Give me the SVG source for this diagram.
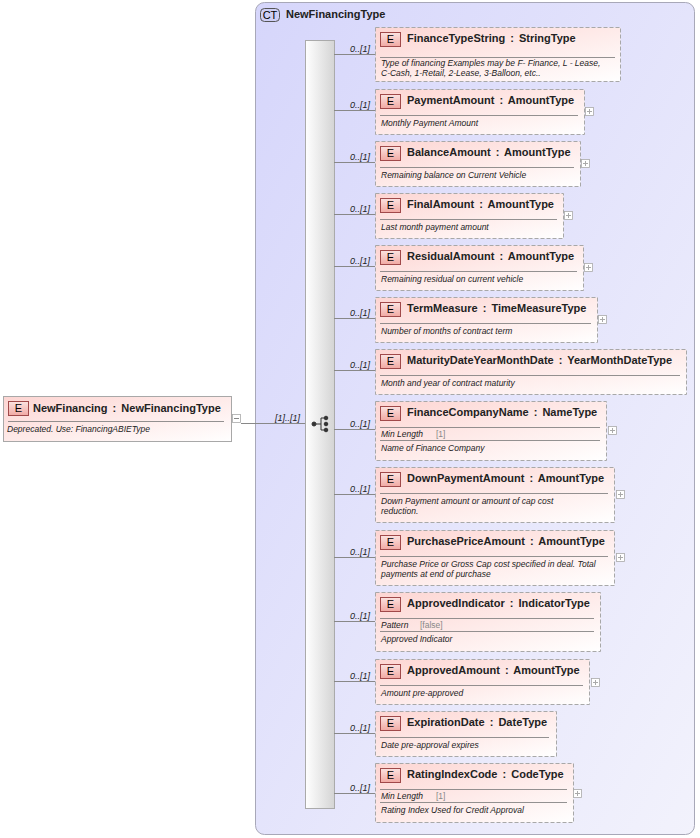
<svg xmlns="http://www.w3.org/2000/svg" width="700" height="838" viewBox="0 0 700 838">
<defs>
<linearGradient id="eg" x1="0" y1="0" x2="1" y2="1"><stop offset="0" stop-color="#fdd5d2"/><stop offset="1" stop-color="#ffffff"/></linearGradient>
<linearGradient id="bg" x1="0" y1="0" x2="0" y2="1"><stop offset="0" stop-color="#fbe3e1"/><stop offset="1" stop-color="#f1a9a3"/></linearGradient>
<linearGradient id="sq" x1="0" y1="0" x2="1" y2="0"><stop offset="0" stop-color="#ffffff"/><stop offset="1" stop-color="#d4d4d4"/></linearGradient>
<linearGradient id="ct" x1="0" y1="0" x2="1" y2="1"><stop offset="0" stop-color="#d6d6fb"/><stop offset="1" stop-color="#f2f2fc"/></linearGradient>
<style>
.box{fill:url(#eg);stroke:#a8a8a8;stroke-dasharray:4,2;stroke-width:1}
.sbox{fill:url(#eg);stroke:#a8a8a8;stroke-width:1}
.badge{fill:url(#bg);stroke:#a0494a;stroke-width:1}
.bt{font-family:"Liberation Sans",Arial,sans-serif;font-size:11px;fill:#000}
.t{font-family:"Liberation Sans",Arial,sans-serif;font-size:11px;font-weight:bold;fill:#222;word-spacing:2px}
.d{font-family:"Liberation Sans",Arial,sans-serif;font-size:8.5px;font-style:italic;fill:#222}
.f{font-family:"Liberation Sans",Arial,sans-serif;font-size:8.5px;fill:#888}
.m{font-family:"Liberation Sans",Arial,sans-serif;font-size:9px;font-style:italic;fill:#222}
.sep{stroke:#777;stroke-width:0.8}
.ln{stroke:#888;stroke-width:1;fill:none}
.pl{fill:#fff;stroke:#aaa;stroke-width:0.8}
</style>
</defs>
<g id="NewFinancingType">
<rect x="255.5" y="2.5" width="439" height="832" rx="9" fill="url(#ct)" stroke="#a8a8b8"/>
<rect x="260.5" y="8.5" width="19" height="13" rx="4" fill="#cfcff5" stroke="#555"/>
<text x="270" y="19" text-anchor="middle" class="bt">CT</text>
<text x="286" y="18" class="t">NewFinancingType</text>
<rect x="305.5" y="40.5" width="29" height="768" fill="url(#sq)" stroke="#aaa"/>
<g fill="#333" stroke="#333"><circle cx="314" cy="424" r="2"/><line x1="316" y1="424" x2="321" y2="424"/><line x1="321" y1="418" x2="321" y2="430"/><line x1="321" y1="418" x2="325" y2="418"/><line x1="321" y1="430" x2="325" y2="430"/><circle cx="326" cy="418" r="1.8"/><circle cx="326" cy="424" r="1.8"/><circle cx="326" cy="430" r="1.8"/></g>
</g>
<g id="connectors">
<line class="ln" x1="241" y1="423.5" x2="305" y2="423.5"/>
<text x="275" y="421" class="m">[1]..[1]</text>
<g class="ln">
<path d="M334 54.5H375M334 110.5H375M334 162.5H375M334 214.5H375M334 266.5H375M334 318.5H375M334 370.5H375M334 429.5H375M334 494.5H375M334 557.5H375M334 621.5H375M334 681.5H375M334 733.5H375M334 793.5H375"/>
</g>
<g class="m">
<text x="350" y="52">0..[1]</text><text x="350" y="108">0..[1]</text><text x="350" y="160">0..[1]</text><text x="350" y="212">0..[1]</text><text x="350" y="264">0..[1]</text><text x="350" y="316">0..[1]</text><text x="350" y="368">0..[1]</text><text x="350" y="427">0..[1]</text><text x="350" y="492">0..[1]</text><text x="350" y="555">0..[1]</text><text x="350" y="619">0..[1]</text><text x="350" y="679">0..[1]</text><text x="350" y="731">0..[1]</text><text x="350" y="791">0..[1]</text>
</g>
</g>
<g id="NewFinancing">
<rect class="sbox" x="3.5" y="396.5" width="228" height="45"/>
<rect class="badge" x="8.5" y="401.5" width="20" height="14"/><text x="18.5" y="412" text-anchor="middle" class="bt">E</text>
<text x="33" y="412" class="t">NewFinancing : NewFinancingType</text>
<line class="sep" x1="8" y1="421.5" x2="224" y2="421.5"/>
<text x="7" y="432" class="d">Deprecated. Use: FinancingABIEType</text>
<rect class="pl" x="232.5" y="414.5" width="8" height="8"/><line x1="234" y1="418.5" x2="239" y2="418.5" stroke="#888"/>
</g>
<g id="FinanceTypeString">
<rect class="box" x="375.5" y="27.5" width="245" height="54"/>
<rect class="badge" x="380.5" y="32.5" width="20" height="14"/><text x="390.5" y="43" text-anchor="middle" class="bt">E</text>
<text x="407" y="42" class="t">FinanceTypeString : StringType</text>
<line class="sep" x1="380" y1="57.5" x2="615" y2="57.5"/>
<text x="381" y="66" class="d">Type of financing Examples may be F- Finance, L - Lease,</text>
<text x="381" y="76" class="d">C-Cash, 1-Retail, 2-Lease, 3-Balloon, etc..</text>
</g>
<g id="PaymentAmount">
<rect class="box" x="375.5" y="89.5" width="209" height="45"/>
<rect class="badge" x="380.5" y="94.5" width="20" height="14"/><text x="390.5" y="105" text-anchor="middle" class="bt">E</text>
<text x="407" y="104" class="t">PaymentAmount : AmountType</text>
<line class="sep" x1="380" y1="115.5" x2="578" y2="115.5"/>
<text x="381" y="126" class="d">Monthly Payment Amount</text>
<rect class="pl" x="585.5" y="107.5" width="8" height="8"/><path d="M587 111.5h5M589.5 109v5" stroke="#aaa"/>
</g>
<g id="BalanceAmount">
<rect class="box" x="375.5" y="141.5" width="205" height="45"/>
<rect class="badge" x="380.5" y="146.5" width="20" height="14"/><text x="390.5" y="157" text-anchor="middle" class="bt">E</text>
<text x="407" y="156" class="t">BalanceAmount : AmountType</text>
<line class="sep" x1="380" y1="167.5" x2="574" y2="167.5"/>
<text x="381" y="178" class="d">Remaining balance on Current Vehicle</text>
<rect class="pl" x="581.5" y="159.5" width="8" height="8"/><path d="M583 163.5h5M585.5 161v5" stroke="#aaa"/>
</g>
<g id="FinalAmount">
<rect class="box" x="375.5" y="193.5" width="188" height="45"/>
<rect class="badge" x="380.5" y="198.5" width="20" height="14"/><text x="390.5" y="209" text-anchor="middle" class="bt">E</text>
<text x="407" y="208" class="t">FinalAmount : AmountType</text>
<line class="sep" x1="380" y1="219.5" x2="557" y2="219.5"/>
<text x="381" y="230" class="d">Last month payment amount</text>
<rect class="pl" x="564.5" y="211.5" width="8" height="8"/><path d="M566 215.5h5M568.5 213v5" stroke="#aaa"/>
</g>
<g id="ResidualAmount">
<rect class="box" x="375.5" y="245.5" width="208" height="45"/>
<rect class="badge" x="380.5" y="250.5" width="20" height="14"/><text x="390.5" y="261" text-anchor="middle" class="bt">E</text>
<text x="407" y="260" class="t">ResidualAmount : AmountType</text>
<line class="sep" x1="380" y1="271.5" x2="577" y2="271.5"/>
<text x="381" y="282" class="d">Remaining residual on current vehicle</text>
<rect class="pl" x="584.5" y="263.5" width="8" height="8"/><path d="M586 267.5h5M588.5 265v5" stroke="#aaa"/>
</g>
<g id="TermMeasure">
<rect class="box" x="375.5" y="297.5" width="222" height="45"/>
<rect class="badge" x="380.5" y="302.5" width="20" height="14"/><text x="390.5" y="313" text-anchor="middle" class="bt">E</text>
<text x="407" y="312" class="t">TermMeasure : TimeMeasureType</text>
<line class="sep" x1="380" y1="323.5" x2="591" y2="323.5"/>
<text x="381" y="334" class="d">Number of months of contract term</text>
<rect class="pl" x="598.5" y="315.5" width="8" height="8"/><path d="M600 319.5h5M602.5 317v5" stroke="#aaa"/>
</g>
<g id="MaturityDateYearMonthDate">
<rect class="box" x="375.5" y="349.5" width="311" height="45"/>
<rect class="badge" x="380.5" y="354.5" width="20" height="14"/><text x="390.5" y="365" text-anchor="middle" class="bt">E</text>
<text x="407" y="364" class="t">MaturityDateYearMonthDate : YearMonthDateType</text>
<line class="sep" x1="380" y1="375.5" x2="680" y2="375.5"/>
<text x="381" y="386" class="d">Month and year of contract maturity</text>
</g>
<g id="FinanceCompanyName">
<rect class="box" x="375.5" y="401.5" width="231" height="59"/>
<rect class="badge" x="380.5" y="406.5" width="20" height="14"/><text x="390.5" y="417" text-anchor="middle" class="bt">E</text>
<text x="407" y="416" class="t">FinanceCompanyName : NameType</text>
<line class="sep" x1="380" y1="427.5" x2="600" y2="427.5"/>
<text x="381" y="437" class="d">Min Length</text><text x="436" y="437" class="f">[1]</text>
<line class="sep" x1="380" y1="440.5" x2="600" y2="440.5"/>
<text x="381" y="451" class="d">Name of Finance Company</text>
<rect class="pl" x="608.5" y="426.5" width="8" height="8"/><path d="M610 430.5h5M612.5 428v5" stroke="#aaa"/>
</g>
<g id="DownPaymentAmount">
<rect class="box" x="375.5" y="467.5" width="239" height="55"/>
<rect class="badge" x="380.5" y="472.5" width="20" height="14"/><text x="390.5" y="483" text-anchor="middle" class="bt">E</text>
<text x="407" y="482" class="t">DownPaymentAmount : AmountType</text>
<line class="sep" x1="380" y1="493.5" x2="608" y2="493.5"/>
<text x="381" y="504" class="d">Down Payment amount or amount of cap cost</text>
<text x="381" y="514" class="d">reduction.</text>
<rect class="pl" x="616.5" y="490.5" width="8" height="8"/><path d="M618 494.5h5M620.5 492v5" stroke="#aaa"/>
</g>
<g id="PurchasePriceAmount">
<rect class="box" x="375.5" y="530.5" width="239" height="55"/>
<rect class="badge" x="380.5" y="535.5" width="20" height="14"/><text x="390.5" y="546" text-anchor="middle" class="bt">E</text>
<text x="407" y="545" class="t">PurchasePriceAmount : AmountType</text>
<line class="sep" x1="380" y1="556.5" x2="608" y2="556.5"/>
<text x="381" y="567" class="d">Purchase Price or Gross Cap cost specified in deal. Total</text>
<text x="381" y="577" class="d">payments at end of purchase</text>
<rect class="pl" x="616.5" y="553.5" width="8" height="8"/><path d="M618 557.5h5M620.5 555v5" stroke="#aaa"/>
</g>
<g id="ApprovedIndicator">
<rect class="box" x="375.5" y="592.5" width="225" height="59"/>
<rect class="badge" x="380.5" y="597.5" width="20" height="14"/><text x="390.5" y="608" text-anchor="middle" class="bt">E</text>
<text x="407" y="607" class="t">ApprovedIndicator : IndicatorType</text>
<line class="sep" x1="380" y1="618.5" x2="594" y2="618.5"/>
<text x="381" y="628" class="d">Pattern</text><text x="420" y="628" class="f">[false]</text>
<line class="sep" x1="380" y1="631.5" x2="594" y2="631.5"/>
<text x="381" y="642" class="d">Approved Indicator</text>
</g>
<g id="ApprovedAmount">
<rect class="box" x="375.5" y="659.5" width="214" height="45"/>
<rect class="badge" x="380.5" y="664.5" width="20" height="14"/><text x="390.5" y="675" text-anchor="middle" class="bt">E</text>
<text x="407" y="674" class="t">ApprovedAmount : AmountType</text>
<line class="sep" x1="380" y1="685.5" x2="583" y2="685.5"/>
<text x="381" y="696" class="d">Amount pre-approved</text>
<rect class="pl" x="591.5" y="678.5" width="8" height="8"/><path d="M593 682.5h5M595.5 680v5" stroke="#aaa"/>
</g>
<g id="ExpirationDate">
<rect class="box" x="375.5" y="711.5" width="181" height="45"/>
<rect class="badge" x="380.5" y="716.5" width="20" height="14"/><text x="390.5" y="727" text-anchor="middle" class="bt">E</text>
<text x="407" y="726" class="t">ExpirationDate : DateType</text>
<line class="sep" x1="380" y1="737.5" x2="549" y2="737.5"/>
<text x="381" y="748" class="d">Date pre-approval expires</text>
</g>
<g id="RatingIndexCode">
<rect class="box" x="375.5" y="763.5" width="198" height="59"/>
<rect class="badge" x="380.5" y="768.5" width="20" height="14"/><text x="390.5" y="779" text-anchor="middle" class="bt">E</text>
<text x="407" y="778" class="t">RatingIndexCode : CodeType</text>
<line class="sep" x1="380" y1="789.5" x2="567" y2="789.5"/>
<text x="381" y="799" class="d">Min Length</text><text x="436" y="799" class="f">[1]</text>
<line class="sep" x1="380" y1="802.5" x2="567" y2="802.5"/>
<text x="381" y="813" class="d">Rating Index Used for Credit Approval</text>
<rect class="pl" x="573.5" y="789.5" width="8" height="8"/><path d="M575 793.5h5M577.5 791v5" stroke="#aaa"/>
</g>
</svg>
